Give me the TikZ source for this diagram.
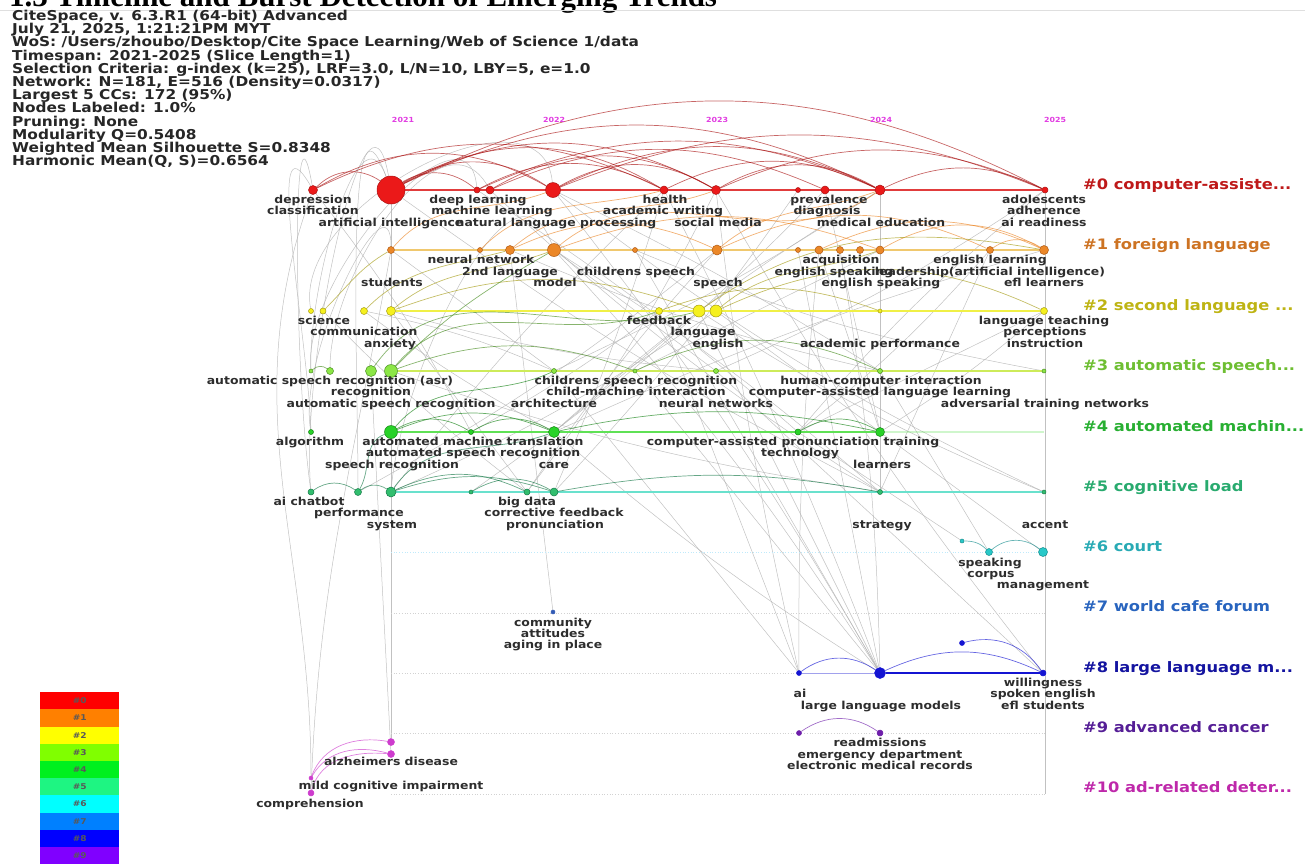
\documentclass[tikz,border=0pt]{standalone}
\usepackage{fontspec}
\setmainfont{DejaVu Sans}[FakeStretch=1.13]
\newfontfamily\titlefont{Liberation Serif}
\pgfdeclarelayer{edges}
\pgfsetlayers{edges,main}

% node colours (fill / border)
\definecolor{n0}{RGB}{235,25,25}\definecolor{n0d}{RGB}{170,20,20}
\definecolor{n1}{RGB}{235,135,40}\definecolor{n1d}{RGB}{175,90,20}
\definecolor{n2}{RGB}{245,240,30}\definecolor{n2d}{RGB}{165,155,20}
\definecolor{n3}{RGB}{140,230,70}\definecolor{n3d}{RGB}{70,140,30}
\definecolor{n4}{RGB}{40,210,40}\definecolor{n4d}{RGB}{20,130,20}
\definecolor{n5}{RGB}{50,190,110}\definecolor{n5d}{RGB}{20,120,70}
\definecolor{n6}{RGB}{40,200,200}\definecolor{n6d}{RGB}{20,140,140}
\definecolor{n7}{RGB}{50,90,180}
\definecolor{n8}{RGB}{20,20,210}
\definecolor{n9}{RGB}{110,30,170}
\definecolor{n10}{RGB}{205,60,205}
% cluster label colours
\definecolor{t0}{RGB}{190,25,25}\definecolor{t1}{RGB}{205,115,35}
\definecolor{t2}{RGB}{190,180,20}\definecolor{t3}{RGB}{110,190,50}
\definecolor{t4}{RGB}{40,175,50}\definecolor{t5}{RGB}{40,170,110}
\definecolor{t6}{RGB}{40,170,180}\definecolor{t7}{RGB}{40,100,190}
\definecolor{t8}{RGB}{20,20,160}\definecolor{t9}{RGB}{85,30,150}
\definecolor{t10}{RGB}{190,40,170}
% lane lines
\definecolor{l0}{RGB}{225,60,60}\definecolor{l1}{RGB}{240,200,110}
\definecolor{l2}{RGB}{240,240,70}\definecolor{l3}{RGB}{205,235,90}
\definecolor{l4}{RGB}{95,225,85}\definecolor{l5}{RGB}{105,225,205}
\definecolor{lab}{RGB}{45,45,45}
\definecolor{yr}{RGB}{225,60,225}

\newcommand\lblfont{\fontsize{11}{11}\selectfont\bfseries}
\newcommand\lanefont{\fontsize{14.4}{15}\selectfont\bfseries}
\newcommand\infofont{\fontsize{13.6}{13.2}\selectfont\bfseries\lineskiplimit=-20pt\relax}

\begin{document}
\begin{tikzpicture}
	[x=1pt, y=-1pt,
	kw/.style = {circle, inner sep=0pt, minimum size=#1, line width=0.5pt},
	k0/.style = {fill=n0, draw=n0d}, k1/.style = {fill=n1, draw=n1d},
	k2/.style = {fill=n2, draw=n2d}, k3/.style = {fill=n3, draw=n3d},
	k4/.style = {fill=n4, draw=n4d}, k5/.style = {fill=n5, draw=n5d},
	k6/.style = {fill=n6, draw=n6d}, k7/.style = {fill=n7, draw=n7},
	k8/.style = {fill=n8, draw=n8}, k9/.style = {fill=n9, draw=n9},
	k10/.style = {fill=n10, draw=n10},
	lbl/.style = {text=lab, font=\lblfont, inner sep=0pt, text height=8pt, text depth=2pt},
	lanelab/.style = {anchor=west, font=\lanefont, inner sep=0pt, text height=10pt, text depth=3pt},
	yearlab/.style = {text=yr, font=\fontsize{7}{7}\selectfont\bfseries, inner sep=0pt},
	lane/.style = {line width=1.6pt, draw=#1},
	dotlane/.style = {draw=gray!35, dotted, line width=0.7pt},
	link/.style = {draw=black!30, line width=0.5pt, opacity=0.8},
	arc/.style = {draw=#1, line width=0.7pt, opacity=0.65},
	legend/.style = {minimum width=79pt, minimum height=17.2pt, inner sep=0pt, anchor=north west,
		font=\fontsize{8}{8}\selectfont\bfseries, text=black!65}]

\useasboundingbox (0,0) rectangle (1305,863);

% title (cut at the top) and header
\node[anchor=base west, inner sep=0pt, font=\titlefont\bfseries\fontsize{31}{33}\selectfont] (title) at (9,6)
	{1.3 Timeline and Burst Detection of Emerging Trends};
\draw[gray!25] (0,10) -- (1305,10);
\node[anchor=north west, align=left, inner sep=0pt, text=black!85, font=\infofont] (info) at (12,10) {%
	CiteSpace, v. 6.3.R1 (64-bit) Advanced\\
	July 21, 2025, 1:21:21PM MYT\\
	WoS: /Users/zhoubo/Desktop/Cite Space Learning/Web of Science 1/data\\
	Timespan: 2021-2025 (Slice Length=1)\\
	Selection Criteria: g-index (k=25), LRF=3.0, L/N=10, LBY=5, e=1.0\\
	Network: N=181, E=516 (Density=0.0317)\\
	Largest 5 CCs: 172 (95\%)\\
	Nodes Labeled: 1.0\%\\
	Pruning: None\\
	Modularity Q=0.5408\\
	Weighted Mean Silhouette S=0.8348\\
	Harmonic Mean(Q, S)=0.6564};

% years
\node[yearlab] (y21) at (403,120) {2021};
\node[yearlab] (y22) at (554,120) {2022};
\node[yearlab] (y23) at (717,120) {2023};
\node[yearlab] (y24) at (881,120) {2024};
\node[yearlab] (y25) at (1055,120) {2025};

% #0
\node[kw=9pt, k0] (dep) at (313,190) {};
\node[kw=28pt, k0] (ai) at (391,190) {};
\node[kw=6pt, k0] (dl) at (477,190) {};
\node[kw=8pt, k0] (ml) at (490,190) {};
\node[kw=15pt, k0] (nlp) at (553,190) {};
\node[kw=8pt, k0] (hlth) at (664,190) {};
\node[kw=9pt, k0] (smed) at (716,190) {};
\node[kw=5pt, k0] (prev) at (798,190) {};
\node[kw=8pt, k0] (diag) at (825,190) {};
\node[kw=10pt, k0] (medu) at (880,190) {};
\node[kw=6pt, k0] (adol) at (1045,190) {};
% #1
\node[kw=7pt, k1] (stud) at (391,250) {};
\node[kw=5pt, k1] (nn) at (480,250) {};
\node[kw=9pt, k1] (l2) at (510,250) {};
\node[kw=13pt, k1] (model) at (554,250) {};
\node[kw=5pt, k1] (chsp) at (635,250) {};
\node[kw=10pt, k1] (spch) at (717,250) {};
\node[kw=5pt, k1] (es1) at (798,250) {};
\node[kw=8pt, k1] (acq) at (819,250) {};
\node[kw=7pt, k1] (es2) at (840,250) {};
\node[kw=7pt, k1] (ldr) at (860,250) {};
\node[kw=8pt, k1] (es3) at (880,250) {};
\node[kw=7pt, k1] (el) at (990,250) {};
\node[kw=9pt, k1] (efl) at (1044,250) {};
% #2
\node[kw=5pt, k2] (s0) at (311,311) {};
\node[kw=6pt, k2] (sci) at (323,311) {};
\node[kw=7pt, k2] (comm) at (364,311) {};
\node[kw=9pt, k2] (anx) at (391,311) {};
\node[kw=7pt, k2] (fb) at (659,311) {};
\node[kw=12pt, k2] (lang) at (699,311) {};
\node[kw=12pt, k2] (eng) at (716,311) {};
\node[kw=4pt, k2] (acp) at (880,311) {};
\node[kw=7pt, k2] (lt) at (1044,311) {};
% #3
\node[kw=4pt, k3] (a0) at (311,371) {};
\node[kw=7pt, k3] (asr) at (330,371) {};
\node[kw=11pt, k3] (rec) at (371,371) {};
\node[kw=13pt, k3] (autsr) at (391,371) {};
\node[kw=5pt, k3] (arch) at (554,371) {};
\node[kw=4pt, k3] (csr) at (635,371) {};
\node[kw=5pt, k3] (nnw) at (716,371) {};
\node[kw=5pt, k3] (hci) at (880,371) {};
\node[kw=4pt, k3] (atn) at (1044,371) {};
% #4
\node[kw=5pt, k4] (alg) at (311,432) {};
\node[kw=13pt, k4] (slr) at (391,432) {};
\node[kw=5pt, k4] (amt) at (471,432) {};
\node[kw=11pt, k4] (care) at (554,432) {};
\node[kw=6pt, k4] (capt) at (798,432) {};
\node[kw=9pt, k4] (lrn) at (880,432) {};
\coordinate (e4) at (1044,432);
% #5
\node[kw=6pt, k5] (aic) at (311,492) {};
\node[kw=7pt, k5] (perf) at (358,492) {};
\node[kw=10pt, k5] (sys) at (391,492) {};
\node[kw=4pt, k5] (b0) at (471,492) {};
\node[kw=6pt, k5] (bd) at (527,492) {};
\node[kw=8pt, k5] (pron) at (554,492) {};
\node[kw=5pt, k5] (strat) at (880,492) {};
\node[kw=4pt, k5] (acc) at (1044,492) {};
% #6
\node[kw=4pt, k6] (c0) at (962,541) {};
\node[kw=7pt, k6] (spk) at (989,552) {};
\node[kw=9pt, k6] (mgmt) at (1043,552) {};
% #7
\node[kw=4pt, k7] (comu) at (553,612) {};
% #8
\node[kw=5pt, k8] (w0) at (962,643) {};
\node[kw=5pt, k8] (ai8) at (799,673) {};
\node[kw=11pt, k8] (llm) at (880,673) {};
\node[kw=6pt, k8] (will) at (1043,673) {};
% #9
\node[kw=5pt, k9] (r0) at (799,733) {};
\node[kw=6pt, k9] (readm) at (880,733) {};
% #10
\node[kw=7pt, k10] (alz1) at (391,742) {};
\node[kw=7pt, k10] (alz2) at (391,754) {};
\node[kw=4pt, k10] (mci) at (311,778) {};
\node[kw=6pt, k10] (comp) at (311,793) {};

% lane ends
\coordinate (s6) at (391,552); \coordinate (e6) at (1045,552);
\coordinate (s7) at (391,613); \coordinate (e7) at (1045,613);
\coordinate (s8) at (391,673);
\coordinate (s9) at (391,733); \coordinate (e9) at (1045,733);
\coordinate (s10) at (391,794); \coordinate (e10) at (1045,794);

\begin{pgfonlayer}{edges}
% gray links between clusters
\draw[link] (ai) -- (alz1);
\draw[link] (rec) -- (alz2);
\draw[link] (adol) -- (e10);
\draw[link] (l2) -- (comu);
\draw[link] (nlp) to[bend left=4] (llm);
\draw[link] (hlth) to[bend left=3] (llm);
\draw[link] (model) to[bend left=5] (llm);
\draw[link] (chsp) -- (llm);
\draw[link] (lang) -- (llm);
\draw[link] (csr) -- (llm);
\draw[link] (care) to[bend right=4] (llm);
\draw[link] (fb) -- (ai8);
\draw[link] (arch) -- (ai8);
\draw[link] (smed) to[bend right=3] (ai8);
\draw[link] (nnw) -- (will);
\draw[link] (capt) -- (c0);
\draw[link] (hci) -- (spk);
\draw[link] (lrn) -- (mgmt);
\draw[link] (dep) to[bend left=5] (amt);
\draw[link] (ml) to[bend right=5] (strat);
\draw[link] (nlp) to[bend right=6] (acc);
\draw[link] (dl) to[bend left=4] (capt);
\draw[link] (l2) to[bend right=5] (hci);
\draw[link] (stud) -- (arch);
\draw[link] (anx) to[bend right=5] (nnw);
\draw[link] (model) to[bend left=4] (strat);
\draw[link] (smed) to[bend left=5] (bd);
\draw[link] (medu) to[bend right=5] (care);
\draw[link] (prev) to[bend left=4] (pron);
\draw[link] (hlth) to[bend right=4] (sys);
\draw[link] (spch) to[bend left=5] (perf);
\draw[link] (eng) -- (lrn);
\draw[link] (lang) to[bend right=5] (acc);
\draw[link] (fb) to[bend left=4] (amt);
\draw[link] (es3) -- (csr);
\draw[link] (el) to[bend left=5] (capt);
\draw[link] (efl) to[bend right=4] (care);
\draw[link] (adol) to[bend left=5] (nnw);
\draw[link] (lt) -- (capt);
\draw[link] (chsp) to[bend right=6] (atn);
\draw[link] (acq) -- (lrn);
\draw[link] (comm) to[bend left=6] (arch);
\draw[link] (sci) to[bend right=4] (bd);
\draw[link] (diag) to[bend left=5] (b0);
\draw[link] (es2) to[bend left=4] (llm);
\draw[link] (medu) -- (strat);
\draw[link] (ai) to[bend right=4] (strat);
\draw[link] (nlp) to[bend left=3] (hci);
\draw[link] (model) -- (nnw);
\draw[link] (spch) to[bend right=4] (bd);
\draw[link] (eng) to[bend left=5] (sys);
\draw[link] (lang) -- (care);
\draw[link] (medu) to[bend left=4] (arch);
\draw[link] (diag) -- (lrn);
\draw[link] (hlth) to[bend left=3] (pron);
\draw[link] (es1) -- (llm);
\draw[link] (acq) to[bend right=3] (ai8);
\draw[link] (el) -- (strat);
\draw[link] (lt) to[bend left=4] (lrn);
\draw[link] (adol) to[bend right=5] (capt);
\draw[link] (comm) to[bend right=4] (care);
\draw[link] (anx) -- (bd);
\draw[link] (autsr) to[bend right=5] (strat);
\draw[link] (smed) to[bend right=4] (will);
% tall loops on the left
\draw[link] (aic) to[out=95,in=100] (ai);
\draw[link] (alg) to[out=92,in=120] (dep);
\draw[link] (perf) to[out=90,in=110] (ai);
\draw[link] (a0) to[out=95,in=95] (dl);
\draw[link] (s0) to[out=100,in=95] (nlp);
\draw[link] (asr) to[out=90,in=120] (ml);
\draw[link] (sys) to[out=85,in=110] (model);
\draw[link] (mci) to[out=90,in=250] (dep);
\draw[link] (comp) to[out=88,in=260] (stud);
\draw[link] (alg) to[out=100,in=90] (stud);
\draw[link] (aic) to[out=98,in=100] (dep);
\draw[link] (a0) to[out=92,in=110] (ai);
%\draw[link] (comp) to[out=90,in=90] (ai);

% lanes
\draw[lane=l0] (ai) -- (adol);
\draw[lane=l1] (stud) -- (efl);
\draw[lane=l2] (anx) -- (lt);
\draw[lane=l3] (autsr) -- (atn);
\draw[lane=l4] (slr) -- (lrn);
\draw[lane=l4, opacity=0.3] (lrn) -- (e4);
\draw[lane=l5] (sys) -- (acc);
\draw[dotlane, draw=cyan!25] (s6) -- (e6);
\draw[dotlane] (s7) -- (e7);
\draw[dotlane] (s8) -- (ai8);
\draw[draw=n8!40, line width=0.8pt] (ai8) -- (llm);
\draw[lane=n8] (llm) -- (will);
\draw[dotlane] (s9) -- (e9);
\draw[dotlane] (s10) -- (e10);

% #0 arcs
\draw[arc=n0d] (dep) to[bend left=40] (ai);
\draw[arc=n0d] (dep) to[bend left=30] (nlp);
\draw[arc=n0d] (dep) to[bend left=26] (hlth);
\draw[arc=n0d] (ai) to[bend left=35] (dl);
\draw[arc=n0d] (ai) to[bend left=32] (nlp);
\draw[arc=n0d] (ai) to[bend left=30] (hlth);
\draw[arc=n0d] (ai) to[bend left=28] (smed);
\draw[arc=n0d] (ai) to[bend left=26] (medu);
\draw[arc=n0d] (ai) to[bend left=27] (adol);
\draw[arc=n0d] (dl) to[bend left=24] (medu);
\draw[arc=n0d] (ml) to[bend left=24] (diag);
\draw[arc=n0d] (ml) to[bend left=30] (smed);
\draw[arc=n0d] (nlp) to[bend left=30] (smed);
\draw[arc=n0d] (nlp) to[bend left=26] (medu);
\draw[arc=n0d] (nlp) to[bend left=22] (adol);
\draw[arc=n0d] (hlth) to[bend left=26] (medu);
\draw[arc=n0d] (smed) to[bend left=30] (medu);
\draw[arc=n0d] (smed) to[bend left=24] (adol);
\draw[arc=n0d] (medu) to[bend left=26] (adol);
\draw[arc=n0d] (dl) to[bend left=28] (hlth);
% #1 arcs
\draw[arc=n1] (stud) to[out=50,in=200] (nlp);
\draw[arc=n1] (l2) to[out=40,in=200] (smed);
\draw[arc=n1] (model) to[out=40,in=215] (medu);
\draw[arc=n1] (nn) to[out=45,in=195] (hlth);
\draw[arc=n1] (model) to[bend left=20] (es3);
\draw[arc=n1] (spch) to[bend left=25] (el);
\draw[arc=n1] (spch) to[out=40,in=200] (medu);
\draw[arc=n1] (es3) to[bend left=30] (efl);
\draw[arc=n1] (el) to[bend left=35] (efl);
\draw[arc=n1] (acq) to[bend left=25] (efl);
\draw[arc=n1] (l2) to[bend left=25] (spch);
% #2 arcs
\draw[arc=n2d] (anx) to[out=40,in=200] (model);
\draw[arc=n2d] (comm) to[out=45,in=195] (l2);
\draw[arc=n2d] (sci) to[out=45,in=210] (stud);
\draw[arc=n2d] (anx) to[bend left=20] (lang);
\draw[arc=n2d] (eng) to[bend left=25] (lt);
\draw[arc=n2d] (lang) to[out=35,in=170] (efl);
\draw[arc=n2d] (fb) to[bend left=20] (acp);
\draw[arc=n2d] (eng) to[out=40,in=200] (es3);
% #3, #4 and #5 arcs
\draw[arc=n3d] (autsr) to[out=50,in=200] (fb);
\draw[arc=n3d] (rec) to[out=55,in=195] (lang);
\draw[arc=n3d] (autsr) to[out=45,in=210] (model);
\draw[arc=n3d] (a0) to[bend left=40] (asr);
\draw[arc=n3d] (autsr) to[bend left=20] (csr);
\draw[arc=n3d] (csr) to[bend left=25] (hci);
\draw[arc=n4d] (slr) to[bend left=30] (amt);
\draw[arc=n4d] (amt) to[bend left=30] (care);
\draw[arc=n4d] (slr) to[bend left=22] (care);
\draw[arc=n4d] (capt) to[bend left=30] (lrn);
\draw[arc=n4d] (care) to[bend left=12] (lrn);
\draw[arc=n4d] (slr) to[out=50,in=205] (arch);
\draw[arc=n5d] (aic) to[bend left=35] (perf);
\draw[arc=n5d] (perf) to[bend left=35] (sys);
\draw[arc=n5d] (sys) to[bend left=25] (bd);
\draw[arc=n5d] (b0) to[bend left=30] (pron);
\draw[arc=n5d] (sys) to[bend left=18] (pron);
\draw[arc=n5d] (perf) to[out=60,in=200] (slr);
\draw[arc=n5d] (sys) to[out=55,in=200] (care);
\draw[arc=n5d] (pron) to[bend left=10] (strat);
% #6, #8, #9, #10 arcs
\draw[arc=n6d] (c0) to[out=0,in=135] (spk);
\draw[arc=n6d] (spk) to[bend left=40] (mgmt);
\draw[arc=n8] (ai8) to[bend left=35] (llm);
\draw[arc=n8] (llm) to[bend left=25] (will);
\draw[arc=n8] (w0) to[bend left=35] (will);
\draw[arc=n9] (r0) to[bend left=35] (readm);
\draw[arc=n10] (mci) to[out=70,in=170] (alz1);
\draw[arc=n10] (comp) to[out=75,in=175] (alz2);
\draw[arc=n10] (mci) to[out=60,in=165] (alz2);
\end{pgfonlayer}

% keyword labels, #0
\node[lbl] (t-dep) at (313,200) {depression};
\node[lbl] (t-dl) at (478,200) {deep learning};
\node[lbl] (t-hlth) at (665,200) {health};
\node[lbl] (t-prev) at (829,200) {prevalence};
\node[lbl] (t-adol) at (1044,200) {adolescents};
\node[lbl] (t-cls) at (313,211.5) {classification};
\node[lbl] (t-ml) at (492,211.5) {machine learning};
\node[lbl] (t-aw) at (663,211.5) {academic writing};
\node[lbl] (t-diag) at (827,211.5) {diagnosis};
\node[lbl] (t-adh) at (1044,211.5) {adherence};
\node[lbl] (t-ai) at (391,223) {artificial intelligence};
\node[lbl] (t-nlp) at (556,223) {natural language processing};
\node[lbl] (t-smed) at (718,223) {social media};
\node[lbl] (t-medu) at (881,223) {medical education};
\node[lbl] (t-air) at (1044,223) {ai readiness};
% #1
\node[lbl] (t-nn) at (481,260.5) {neural network};
\node[lbl] (t-acq) at (841,260.5) {acquisition};
\node[lbl] (t-el) at (990,260.5) {english learning};
\node[lbl] (t-l2) at (510,272) {2nd language};
\node[lbl] (t-chsp) at (636,272) {childrens speech};
\node[lbl] (t-es2) at (834,272) {english speaking};
\node[lbl] (t-ldr) at (990,272) {leadership(artificial intelligence)};
\node[lbl] (t-stud) at (392,283.5) {students};
\node[lbl] (t-model) at (555,283.5) {model};
\node[lbl] (t-spch) at (718,283.5) {speech};
\node[lbl] (t-es3) at (881,283.5) {english speaking};
\node[lbl] (t-efl) at (1044,283.5) {efl learners};
% #2
\node[lbl] (t-sci) at (324,321) {science};
\node[lbl] (t-fb) at (659,321) {feedback};
\node[lbl] (t-lt) at (1044,321) {language teaching};
\node[lbl] (t-comm) at (364,332.5) {communication};
\node[lbl] (t-lang) at (703,332.5) {language};
\node[lbl] (t-perc) at (1045,332.5) {perceptions};
\node[lbl] (t-anx) at (390,344) {anxiety};
\node[lbl] (t-eng) at (718,344) {english};
\node[lbl] (t-acp) at (880,344) {academic performance};
\node[lbl] (t-ins) at (1045,344) {instruction};
% #3
\node[lbl] (t-asr) at (330,381) {automatic speech recognition (asr)};
\node[lbl] (t-csr) at (636,381) {childrens speech recognition};
\node[lbl] (t-hci) at (881,381) {human-computer interaction};
\node[lbl] (t-rec) at (371,392.5) {recognition};
\node[lbl] (t-cmi) at (636,392.5) {child-machine interaction};
\node[lbl] (t-call) at (880,392.5) {computer-assisted language learning};
\node[lbl] (t-autsr) at (391,404) {automatic speech recognition};
\node[lbl] (t-arch) at (554,404) {architecture};
\node[lbl] (t-nnw) at (716,404) {neural networks};
\node[lbl] (t-atn) at (1045,404) {adversarial training networks};
% #4
\node[lbl] (t-alg) at (310,442) {algorithm};
\node[lbl] (t-amt) at (473,442) {automated machine translation};
\node[lbl] (t-capt) at (793,442) {computer-assisted pronunciation training};
\node[lbl] (t-aspr) at (473,453.5) {automated speech recognition};
\node[lbl] (t-tech) at (800,453.5) {technology};
\node[lbl] (t-slr) at (392,465) {speech recognition};
\node[lbl] (t-care) at (554,465) {care};
\node[lbl] (t-lrn) at (882,465) {learners};
% #5
\node[lbl] (t-aic) at (309,502) {ai chatbot};
\node[lbl] (t-bd) at (527,502) {big data};
\node[lbl] (t-perf) at (359,513.5) {performance};
\node[lbl] (t-cf) at (554,513.5) {corrective feedback};
\node[lbl] (t-sys) at (392,525) {system};
\node[lbl] (t-pron) at (555,525) {pronunciation};
\node[lbl] (t-strat) at (882,525) {strategy};
\node[lbl] (t-acc) at (1045,525) {accent};
% #6 - #10
\node[lbl] (t-spk) at (990,563) {speaking};
\node[lbl] (t-corp) at (991,574) {corpus};
\node[lbl] (t-mgmt) at (1043,585) {management};
\node[lbl] (t-comu) at (553,623) {community};
\node[lbl] (t-att) at (553,634) {attitudes};
\node[lbl] (t-aip) at (553,645) {aging in place};
\node[lbl] (t-will) at (1043,683) {willingness};
\node[lbl] (t-ai8) at (800,694) {ai};
\node[lbl] (t-spe) at (1043,694) {spoken english};
\node[lbl] (t-llm) at (881,706) {large language models};
\node[lbl] (t-efls) at (1043,706) {efl students};
\node[lbl] (t-readm) at (880,743) {readmissions};
\node[lbl] (t-ed) at (880,755) {emergency department};
\node[lbl] (t-emr) at (880,766) {electronic medical records};
\node[lbl] (t-alz) at (391,762) {alzheimers disease};
\node[lbl] (t-mci) at (391,786) {mild cognitive impairment};
\node[lbl] (t-comp) at (310,804) {comprehension};

% cluster labels
\node[lanelab, text=t0] (L0) at (1083,186) {\#0 computer-assiste...};
\node[lanelab, text=t1] (L1) at (1083,246) {\#1 foreign language};
\node[lanelab, text=t2] (L2) at (1083,307) {\#2 second language ...};
\node[lanelab, text=t3] (L3) at (1083,367) {\#3 automatic speech...};
\node[lanelab, text=t4] (L4) at (1083,428) {\#4 automated machin...};
\node[lanelab, text=t5] (L5) at (1083,488) {\#5 cognitive load};
\node[lanelab, text=t6] (L6) at (1083,548) {\#6 court};
\node[lanelab, text=t7] (L7) at (1083,608) {\#7 world cafe forum};
\node[lanelab, text=t8] (L8) at (1083,669) {\#8 large language m...};
\node[lanelab, text=t9] (L9) at (1083,729) {\#9 advanced cancer};
\node[lanelab, text=t10] (L10) at (1083,789) {\#10 ad-related deter...};

% colour legend
\node[legend, fill={rgb,255:red,255;green,0;blue,0}] (g0) at (40,692) {\#0};
\node[legend, fill={rgb,255:red,255;green,128;blue,0}] (g1) at (40,709.2) {\#1};
\node[legend, fill={rgb,255:red,255;green,255;blue,0}] (g2) at (40,726.4) {\#2};
\node[legend, fill={rgb,255:red,128;green,255;blue,0}] (g3) at (40,743.6) {\#3};
\node[legend, fill={rgb,255:red,0;green,240;blue,30}] (g4) at (40,760.8) {\#4};
\node[legend, fill={rgb,255:red,30;green,245;blue,130}] (g5) at (40,778) {\#5};
\node[legend, fill={rgb,255:red,0;green,255;blue,255}] (g6) at (40,795.2) {\#6};
\node[legend, fill={rgb,255:red,0;green,128;blue,255}] (g7) at (40,812.4) {\#7};
\node[legend, fill={rgb,255:red,0;green,0;blue,255}] (g8) at (40,829.6) {\#8};
\node[legend, fill={rgb,255:red,128;green,0;blue,255}] (g9) at (40,846.8) {\#9};
\end{tikzpicture}
\end{document}
